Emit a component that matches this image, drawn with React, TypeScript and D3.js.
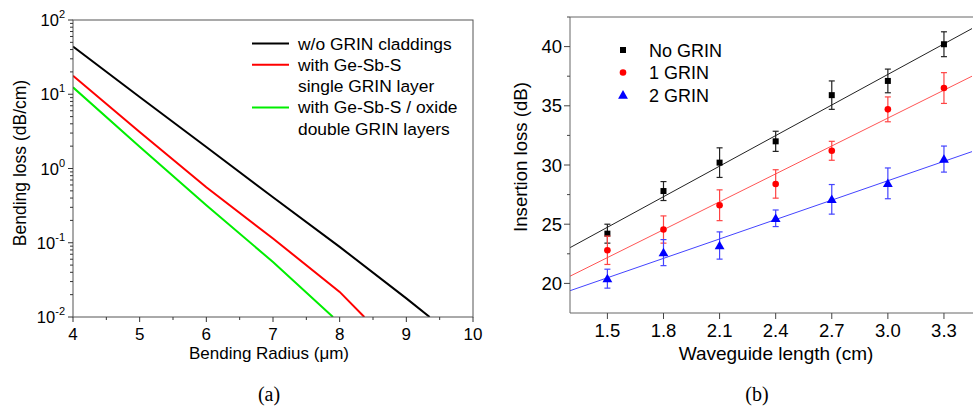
import * as d3 from "d3";
import React from "react";

// ---- panel (a): bending loss vs radius ----
const radiusBlack = [4, 5, 6, 7, 8, 9, 9.35];
const lossBlack = [44, 9.2, 1.95, 0.41, 0.088, 0.0178, 0.01];
const radiusRed = [4, 5, 6, 7, 8, 8.37];
const lossRed = [17.8, 3.1, 0.56, 0.114, 0.0218, 0.01];
const radiusGreen = [4, 5, 6, 7, 7.9];
const lossGreen = [12.4, 1.96, 0.32, 0.055, 0.01];
const legendA = [
  { color: "#000000", lines: ["w/o GRIN claddings"] },
  { color: "#ff0000", lines: ["with Ge-Sb-S", "single GRIN layer"] },
  { color: "#00ee00", lines: ["with Ge-Sb-S / oxide", "double GRIN layers"] },
];
const xTicksA = [4, 5, 6, 7, 8, 9, 10];
const yExpA = [-2, -1, 0, 1, 2];

// ---- panel (b): insertion loss vs waveguide length ----
const lengths = [1.5, 1.8, 2.1, 2.4, 2.7, 3.0, 3.3];
const noGrin = [24.2, 27.8, 30.2, 32.0, 35.9, 37.1, 40.2];
const noGrinErr = [0.8, 0.8, 1.25, 0.85, 1.2, 1.0, 1.05];
const oneGrin = [22.8, 24.55, 26.6, 28.4, 31.2, 34.7, 36.5];
const oneGrinErr = [1.2, 1.15, 1.3, 1.2, 0.8, 1.05, 1.3];
const twoGrin = [20.4, 22.6, 23.2, 25.5, 27.1, 28.45, 30.5];
const twoGrinErr = [0.8, 1.1, 1.15, 0.7, 1.25, 1.3, 1.1];
const xTicksB = [1.5, 1.8, 2.1, 2.4, 2.7, 3.0, 3.3];
const yTicksB = [20, 25, 30, 35, 40];

const FONT = "'Liberation Sans', Arial, sans-serif";
const SERIF = "'Liberation Serif', 'Times New Roman', serif";

function fit(xs: number[], ys: number[]) {
  const mx = d3.mean(xs)!, my = d3.mean(ys)!;
  let sxy = 0, sxx = 0;
  xs.forEach((x, i) => { sxy += (x - mx) * (ys[i] - my); sxx += (x - mx) * (x - mx); });
  const b = sxy / sxx;
  return (x: number) => my + b * (x - mx);
}

function PanelA() {
  const left = 73, right = 473, top = 20, bottom = 317;
  const x = d3.scaleLinear().domain([4, 10]).range([left, right]);
  const y = d3.scaleLog().domain([0.01, 100]).range([bottom, top]);
  const line = d3.line<[number, number]>().x((d) => x(d[0])).y((d) => y(d[1]));
  const series = [
    { xs: radiusBlack, ys: lossBlack, color: "#000000" },
    { xs: radiusRed, ys: lossRed, color: "#ff0000" },
    { xs: radiusGreen, ys: lossGreen, color: "#00ee00" },
  ];
  const minorY: number[] = [];
  for (let e = -2; e < 2; e++) for (let k = 2; k <= 9; k++) minorY.push(k * Math.pow(10, e));
  const minorX = d3.range(4.5, 10, 1);
  let row = 0;
  return (
    <g fontFamily={FONT}>
      <defs>
        <clipPath id="clipA"><rect x={left} y={top} width={right - left} height={bottom - top} /></clipPath>
      </defs>
      <g clipPath="url(#clipA)">
        {series.map((s, i) => (
          <path key={i} d={line(s.xs.map((v, j) => [v, s.ys[j]] as [number, number]))!} fill="none" stroke={s.color} strokeWidth={2} />
        ))}
      </g>
      <rect x={left} y={top} width={right - left} height={bottom - top} fill="none" stroke="#555" strokeWidth={1} />
      {yExpA.map((e) => (
        <g key={e}>
          <line x1={left - 5} x2={left} y1={y(Math.pow(10, e))} y2={y(Math.pow(10, e))} stroke="#333" />
          <text x={65} y={y(Math.pow(10, e)) + 6} textAnchor="end" fontSize={16.5}>
            10<tspan fontSize={11} dy={-8}>{e}</tspan>
          </text>
        </g>
      ))}
      {minorY.map((v, i) => (
        <line key={i} x1={left - 3} x2={left} y1={y(v)} y2={y(v)} stroke="#333" />
      ))}
      {xTicksA.map((t) => (
        <g key={t}>
          <line x1={x(t)} x2={x(t)} y1={bottom} y2={bottom + 5} stroke="#333" />
          <text x={x(t)} y={340} textAnchor="middle" fontSize={17}>{t}</text>
        </g>
      ))}
      {minorX.map((t) => (
        <line key={t} x1={x(t)} x2={x(t)} y1={bottom} y2={bottom + 3} stroke="#333" />
      ))}
      <text x={269} y={359} textAnchor="middle" fontSize={17}>Bending Radius (μm)</text>
      <text transform="translate(26,163) rotate(-90)" textAnchor="middle" fontSize={17.5}>Bending loss (dB/cm)</text>
      {legendA.map((l, i) => {
        const r0 = row;
        row += l.lines.length;
        const ly = 43.5 + r0 * 21.3;
        return (
          <g key={i}>
            <line x1={252} x2={289} y1={ly} y2={ly} stroke={l.color} strokeWidth={2} />
            {l.lines.map((t, j) => (
              <text key={j} x={298} y={ly + 6 + j * 21.3} fontSize={17.4}>{t}</text>
            ))}
          </g>
        );
      })}
      <text x={269} y={401} textAnchor="middle" fontSize={20} fontFamily={SERIF}>(a)</text>
    </g>
  );
}

function Marker({ kind, cx, cy, color }: { kind: string; cx: number; cy: number; color: string }) {
  if (kind === "square") return <rect x={cx - 3} y={cy - 3} width={6} height={6} fill={color} />;
  if (kind === "circle") return <circle cx={cx} cy={cy} r={3.3} fill={color} />;
  const s = d3.symbol(d3.symbolTriangle, 42)()!;
  return <path d={s} transform={`translate(${cx},${cy + 0.8})`} fill={color} />;
}

function PanelB() {
  const left = 570, right = 972, top = 17, bottom = 313;
  const x = d3.scaleLinear().domain([1.3, 3.45]).range([left, right]);
  const y = d3.scaleLinear().domain([17.5, 42.5]).range([bottom, top]);
  const series = [
    { ys: noGrin, err: noGrinErr, color: "#000000", fitColor: "#222", errColor: "#222", kind: "square", name: "No GRIN" },
    { ys: oneGrin, err: oneGrinErr, color: "#ff0000", fitColor: "#ff5555", errColor: "#ff4444", kind: "circle", name: "1 GRIN" },
    { ys: twoGrin, err: twoGrinErr, color: "#0000ff", fitColor: "#4444ff", errColor: "#4444ff", kind: "triangle", name: "2 GRIN" },
  ];
  const minorY = d3.range(22.5, 43, 5);
  return (
    <g fontFamily={FONT}>
      {series.map((s, i) => {
        const f = fit(lengths, s.ys);
        return (
          <g key={i}>
            <line x1={x(1.3)} x2={x(3.45)} y1={y(f(1.3))} y2={y(f(3.45))} stroke={s.fitColor} strokeWidth={1} />
            {lengths.map((l, j) => (
              <g key={j} stroke={s.errColor} strokeWidth={1.2}>
                <line x1={x(l)} x2={x(l)} y1={y(s.ys[j] - s.err[j])} y2={y(s.ys[j] + s.err[j])} />
                <line x1={x(l) - 3} x2={x(l) + 3} y1={y(s.ys[j] - s.err[j])} y2={y(s.ys[j] - s.err[j])} />
                <line x1={x(l) - 3} x2={x(l) + 3} y1={y(s.ys[j] + s.err[j])} y2={y(s.ys[j] + s.err[j])} />
              </g>
            ))}
            {lengths.map((l, j) => (
              <Marker key={"m" + j} kind={s.kind} cx={x(l)} cy={y(s.ys[j])} color={s.color} />
            ))}
          </g>
        );
      })}
      <line x1={left} x2={left} y1={top} y2={bottom} stroke="#666" />
      <line x1={left} x2={973} y1={top} y2={top} stroke="#666" />
      <line x1={left} x2={973} y1={bottom} y2={bottom} stroke="#666" />
      {yTicksB.map((t) => (
        <g key={t}>
          <line x1={left - 6} x2={left} y1={y(t)} y2={y(t)} stroke="#444" />
          <text x={562} y={y(t) + 6.5} textAnchor="end" fontSize={18.5}>{t}</text>
        </g>
      ))}
      {minorY.map((t) => (
        <line key={t} x1={left - 3} x2={left} y1={y(t)} y2={y(t)} stroke="#444" />
      ))}
      {xTicksB.map((t) => (
        <g key={t}>
          <line x1={x(t)} x2={x(t)} y1={bottom} y2={bottom + 6} stroke="#444" />
          <text x={x(t)} y={337} textAnchor="middle" fontSize={18.5}>{t.toFixed(1)}</text>
        </g>
      ))}
      <text x={776} y={360} textAnchor="middle" fontSize={19}>Waveguide length (cm)</text>
      <text transform="translate(527,157) rotate(-90)" textAnchor="middle" fontSize={18.6}>Insertion loss (dB)</text>
      {series.map((s, i) => {
        const ly = 50 + i * 22.5;
        return (
          <g key={i}>
            <Marker kind={s.kind} cx={623} cy={ly} color={s.color} />
            <text x={649} y={ly + 6.5} fontSize={18}>{s.name}</text>
          </g>
        );
      })}
      <text x={757} y={401} textAnchor="middle" fontSize={20} fontFamily={SERIF}>(b)</text>
    </g>
  );
}

export default function App() {
  return (
    <svg width={973} height={406} style={{ position: "absolute", left: 0, top: 0, background: "#fff" }}>
      <PanelA />
      <PanelB />
    </svg>
  );
}
